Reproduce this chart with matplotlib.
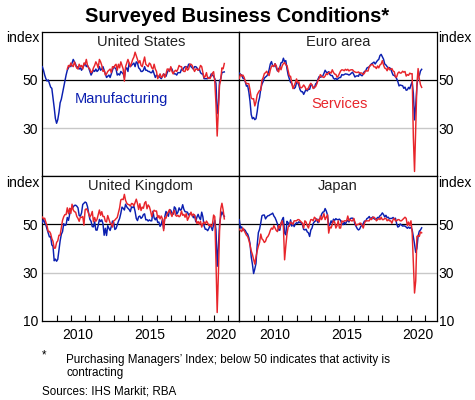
import numpy as np
import matplotlib
matplotlib.use("Agg")
import matplotlib.pyplot as plt

plt.rcParams['font.family'] = ['Liberation Sans', 'DejaVu Sans']

# ---------------- data (monthly, Jan 2008 - Oct 2020) ----------------
start_year = 2008
nan = np.nan

us_manufacturing = [
    55.5, 54.0, 52.0, 50.5, 49.5, 50.0, 48.5, 47.0, 46.5, 42.5, 38.5, 34.0,
    32.0, 33.5, 36.5, 40.5, 42.0, 44.5, 47.0, 49.5, 52.0, 54.0, 55.0, 56.0,
    55.5, 57.0, 58.5, 57.5, 56.5, 55.0, 55.5, 54.5, 55.0, 54.0, 55.0, 56.0,
    57.0, 55.5, 56.0, 55.0, 53.5, 52.0, 53.0, 54.0, 53.5, 54.5, 53.5, 54.0,
    55.5, 54.0, 54.5, 55.5, 54.0, 52.5, 51.0, 51.5, 52.0, 51.0, 52.5, 54.0,
    55.5, 55.0, 54.5, 52.0, 52.5, 52.0, 53.5, 53.0, 52.5, 51.0, 54.5, 55.0,
    53.5, 57.0, 55.5, 56.0, 56.5, 57.0, 55.5, 57.5, 57.0, 55.0, 54.5, 53.5,
    53.5, 54.0, 55.5, 54.0, 54.0, 53.5, 53.5, 53.0, 53.0, 54.0, 52.5, 51.0,
    52.0, 51.5, 51.5, 51.0, 50.5, 51.5, 52.5, 52.0, 51.5, 53.0, 54.0, 54.0,
    55.0, 54.5, 53.0, 52.5, 52.5, 52.0, 53.0, 53.0, 53.0, 54.5, 54.0, 55.0,
    55.5, 55.5, 55.0, 56.5, 56.5, 55.5, 55.0, 54.5, 55.5, 55.5, 55.0, 54.0,
    54.5, 53.0, 52.5, 52.5, 50.5, 50.5, 50.5, 50.5, 51.0, 51.0, 52.5, 52.0,
    51.5, 50.5, 48.5, 36.0, 39.5, 49.5, 50.5, 53.0, 53.2, 53.3,
]
us_services = [nan] * 21 + [
    54.5, 56.0, 55.5,
    57.0, 56.0, 55.5, 57.5, 56.0, 55.0, 54.5, 56.5, 55.5, 56.0, 54.5, 57.0,
    56.5, 58.5, 56.0, 55.0, 54.5, 53.0, 53.5, 55.0, 56.0, 57.5, 56.5, 55.0,
    58.5, 57.5, 56.0, 53.5, 54.0, 52.0, 52.5, 53.5, 54.0, 54.5, 53.0, 55.5,
    55.0, 56.0, 56.5, 54.0, 56.5, 55.0, 57.5, 56.0, 54.5, 49.5, 55.5, 57.0,
    58.5, 57.0, 55.5, 57.0, 58.5, 59.5, 61.5, 60.0, 58.5, 57.0, 58.0, 56.0,
    55.5, 57.5, 59.5, 56.5, 56.0, 55.5, 57.0, 56.5, 55.0, 54.5, 56.5, 54.5,
    53.5, 50.5, 51.5, 52.5, 51.0, 51.5, 52.5, 51.0, 52.5, 54.5, 54.5, 53.5,
    55.5, 53.5, 52.5, 53.5, 54.0, 53.5, 54.5, 56.0, 55.5, 55.5, 54.0, 53.5,
    53.5, 55.5, 54.0, 54.5, 56.5, 56.5, 56.0, 54.5, 53.5, 54.5, 54.5, 54.0,
    54.5, 56.0, 55.5, 53.0, 50.9, 51.5, 53.0, 50.7, 50.9, 50.6, 51.6, 52.8,
    53.4, 49.4, 39.8, 26.7, 37.5, 47.9, 50.0, 55.0, 54.6, 56.8,
]

ea_manufacturing = [
    52.8, 52.3, 52.0, 50.7, 50.6, 49.2, 47.4, 47.6, 45.0, 41.1, 35.6, 33.9,
    34.4, 33.5, 33.9, 36.8, 40.7, 42.6, 46.3, 48.2, 49.3, 50.7, 51.2, 51.6,
    52.4, 54.2, 56.6, 57.6, 55.8, 55.6, 56.7, 55.1, 53.7, 54.6, 55.3, 57.1,
    57.3, 59.0, 57.5, 58.0, 54.6, 52.0, 50.4, 49.0, 48.5, 47.1, 46.4, 46.9,
    48.8, 49.0, 47.7, 45.9, 45.1, 45.1, 44.0, 45.1, 46.1, 45.4, 46.2, 46.1,
    47.9, 47.9, 46.8, 46.7, 48.3, 48.8, 50.3, 51.4, 51.1, 51.3, 51.6, 52.7,
    54.0, 53.2, 53.0, 53.4, 52.2, 51.8, 51.8, 50.7, 50.3, 50.6, 50.1, 50.6,
    51.0, 51.0, 52.2, 52.0, 52.2, 52.5, 52.4, 52.3, 52.0, 52.3, 52.8, 53.2,
    52.3, 51.2, 51.6, 51.7, 51.5, 52.8, 52.0, 51.7, 52.6, 53.5, 53.7, 54.9,
    55.2, 55.4, 56.2, 56.7, 57.0, 57.4, 56.6, 57.4, 58.1, 58.5, 60.1, 60.6,
    59.6, 58.6, 56.6, 56.2, 55.5, 54.9, 55.1, 54.6, 53.2, 52.0, 51.8, 51.4,
    50.5, 49.3, 47.5, 47.9, 47.7, 47.6, 46.5, 47.0, 45.7, 45.9, 46.9, 46.3,
    47.9, 49.2, 44.5, 33.4, 39.4, 47.4, 51.8, 51.7, 53.7, 54.4,
]
ea_services = [
    50.6, 52.3, 51.6, 52.0, 51.1, 49.5, 48.3, 48.5, 48.4, 45.8, 42.5, 42.1,
    42.2, 39.2, 40.9, 43.8, 44.8, 45.6, 45.7, 49.9, 50.9, 52.6, 53.0, 53.6,
    52.5, 51.8, 54.1, 55.6, 56.0, 55.5, 56.7, 55.9, 54.1, 53.3, 55.4, 54.2,
    55.9, 56.8, 57.2, 56.2, 56.0, 53.7, 51.6, 51.5, 48.8, 46.4, 47.5, 48.8,
    50.4, 48.8, 49.2, 46.9, 46.7, 47.1, 47.9, 47.2, 46.1, 46.0, 46.7, 47.8,
    48.6, 47.9, 46.4, 47.0, 47.2, 48.3, 49.8, 50.7, 52.2, 51.6, 51.2, 51.0,
    51.6, 52.6, 52.2, 53.1, 53.2, 52.8, 54.2, 53.1, 52.4, 52.3, 51.1, 51.6,
    52.7, 53.7, 54.2, 54.1, 53.8, 54.4, 54.0, 54.4, 53.7, 54.1, 54.2, 54.2,
    53.6, 53.3, 53.1, 53.1, 53.3, 52.8, 52.9, 52.8, 52.2, 52.8, 53.8, 53.7,
    53.7, 55.5, 56.0, 56.4, 56.3, 55.4, 55.4, 54.7, 55.8, 55.0, 56.2, 56.6,
    58.0, 56.2, 54.9, 54.7, 53.8, 55.2, 54.2, 54.4, 54.7, 53.7, 53.4, 51.2,
    51.2, 52.8, 53.3, 52.8, 52.9, 53.6, 53.2, 53.5, 51.6, 52.2, 51.9, 52.8,
    52.5, 52.6, 26.4, 12.0, 30.5, 48.3, 54.7, 50.5, 48.0, 46.9,
]

uk_manufacturing = [
    50.8, 52.3, 50.6, 49.8, 48.0, 46.4, 44.8, 45.0, 41.5, 40.9, 34.9, 35.6,
    34.7, 35.5, 39.2, 43.2, 45.9, 47.0, 50.3, 49.6, 49.8, 52.9, 51.7, 54.1,
    56.6, 56.5, 57.3, 57.9, 58.0, 57.6, 56.9, 53.7, 53.4, 54.8, 58.3, 58.8,
    59.3, 59.0, 57.4, 54.6, 52.1, 51.3, 49.1, 49.0, 51.1, 47.7, 47.6, 49.6,
    52.1, 51.2, 51.9, 50.3, 45.5, 48.4, 45.4, 49.5, 48.4, 47.5, 49.1, 51.4,
    50.8, 47.9, 48.3, 49.8, 51.3, 52.5, 54.6, 57.2, 56.7, 56.0, 58.4, 57.3,
    56.7, 56.2, 55.3, 57.3, 57.0, 57.5, 55.4, 52.5, 51.6, 53.2, 53.5, 52.5,
    53.0, 54.1, 54.4, 51.9, 52.0, 51.4, 51.9, 51.5, 51.5, 55.5, 52.7, 51.9,
    52.9, 50.8, 51.0, 49.2, 50.1, 52.1, 48.2, 53.3, 55.4, 54.3, 53.4, 56.1,
    55.9, 54.6, 54.2, 57.3, 56.7, 54.3, 55.1, 56.9, 55.9, 56.3, 58.2, 56.3,
    55.3, 55.2, 55.1, 53.9, 54.4, 54.4, 54.0, 52.8, 53.8, 51.1, 53.1, 54.2,
    52.8, 52.0, 55.1, 53.1, 49.4, 48.0, 48.0, 47.4, 48.3, 49.6, 48.9, 47.5,
    50.0, 51.7, 47.8, 32.6, 40.7, 50.1, 53.3, 55.2, 54.1, 53.3,
]
uk_services = [
    53.1, 52.3, 52.6, 50.9, 49.4, 47.0, 47.1, 46.2, 44.1, 43.0, 40.1, 40.2,
    42.5, 43.2, 45.5, 45.5, 48.7, 51.7, 53.2, 54.1, 54.1, 56.9, 54.4, 56.7,
    54.6, 58.4, 56.0, 55.3, 55.1, 53.3, 52.5, 51.3, 53.0, 52.9, 53.3, 49.7,
    56.1, 56.5, 55.8, 54.5, 53.1, 53.9, 55.4, 51.1, 52.9, 51.3, 52.1, 54.0,
    56.0, 53.8, 55.3, 53.3, 53.3, 51.3, 51.0, 53.7, 52.2, 50.6, 50.2, 48.9,
    51.5, 51.8, 52.4, 52.9, 54.9, 56.9, 60.2, 60.5, 60.3, 62.5, 60.0, 58.8,
    58.3, 58.2, 57.6, 58.7, 58.6, 57.7, 59.1, 60.5, 58.7, 56.2, 58.6, 55.8,
    57.2, 56.7, 58.9, 59.5, 56.5, 58.1, 57.4, 55.6, 53.3, 54.9, 55.9, 55.5,
    55.6, 52.7, 53.7, 52.3, 53.5, 52.3, 47.4, 52.9, 52.6, 54.5, 55.2, 56.2,
    54.5, 53.3, 55.0, 55.8, 53.8, 53.4, 53.8, 53.2, 53.6, 55.6, 53.8, 54.2,
    53.0, 54.5, 51.7, 52.8, 54.0, 55.1, 53.5, 54.3, 53.9, 52.2, 50.4, 51.2,
    50.1, 51.3, 48.9, 50.4, 51.0, 50.2, 51.4, 50.6, 49.5, 50.0, 49.0, 50.0,
    53.9, 53.2, 34.5, 13.4, 29.0, 47.1, 56.5, 58.8, 56.1, 52.3,
]

jp_manufacturing = [
    52.0, 48.5, 49.0, 47.5, 48.0, 47.5, 46.5, 46.0, 44.5, 42.0, 36.5, 33.5,
    29.6, 31.5, 33.8, 41.4, 46.6, 48.0, 50.6, 53.6, 53.9, 53.9, 52.3, 53.1,
    53.6, 53.7, 54.1, 54.3, 54.7, 53.5, 52.8, 51.6, 50.2, 47.7, 47.6, 50.5,
    52.0, 52.9, 46.4, 45.7, 51.3, 50.7, 49.3, 51.9, 49.3, 50.6, 49.1, 50.2,
    50.7, 50.5, 51.1, 50.7, 50.7, 49.9, 47.9, 47.7, 48.0, 46.9, 46.5, 45.0,
    47.7, 48.5, 50.4, 51.1, 51.5, 52.3, 50.7, 52.2, 52.5, 54.2, 55.1, 55.2,
    56.6, 55.5, 53.9, 49.4, 49.9, 51.5, 50.5, 52.2, 51.7, 52.4, 52.0, 52.0,
    52.2, 51.6, 50.3, 49.9, 50.9, 50.1, 51.2, 51.7, 51.0, 52.4, 52.6, 52.6,
    52.3, 50.1, 49.1, 48.2, 47.7, 48.1, 49.3, 49.5, 50.4, 51.4, 51.3, 52.4,
    52.7, 53.3, 52.4, 52.7, 53.1, 52.4, 52.1, 52.2, 52.9, 52.8, 53.6, 54.0,
    54.8, 54.1, 53.1, 53.8, 52.8, 53.0, 52.3, 52.5, 52.5, 52.9, 52.2, 52.6,
    50.3, 48.9, 49.2, 50.2, 49.8, 49.3, 49.4, 49.3, 48.9, 48.4, 48.9, 48.4,
    48.8, 47.8, 44.8, 41.9, 38.4, 40.1, 45.2, 47.2, 47.7, 48.6,
]
jp_services = [
    48.0, 47.5, 47.0, 48.5, 47.5, 46.5, 45.5, 45.0, 43.5, 41.5, 39.0, 37.5,
    35.5, 33.5, 36.5, 39.0, 41.0, 42.5, 46.0, 44.0, 43.5, 42.5, 43.0, 44.5,
    45.0, 46.0, 47.5, 48.5, 48.0, 49.5, 48.5, 47.5, 47.0, 49.5, 48.5, 50.5,
    51.5, 49.0, 35.3, 41.0, 46.0, 49.0, 49.5, 51.0, 50.5, 50.0, 51.5, 51.5,
    51.5, 52.0, 52.0, 51.5, 51.0, 50.5, 48.5, 51.5, 51.0, 49.5, 48.5, 50.5,
    52.0, 52.0, 51.5, 53.0, 52.5, 51.5, 52.0, 51.0, 53.5, 52.0, 53.0, 54.5,
    52.0, 53.0, 54.0, 46.4, 49.0, 48.5, 50.0, 51.5, 51.0, 48.5, 49.5, 51.5,
    48.5, 48.5, 51.5, 51.0, 51.5, 51.5, 51.5, 53.5, 51.5, 52.0, 51.5, 51.5,
    52.5, 51.0, 49.5, 50.0, 50.0, 50.5, 50.5, 49.5, 48.5, 50.5, 51.5, 51.5,
    51.5, 51.5, 52.5, 52.0, 53.0, 53.0, 52.5, 51.5, 52.0, 52.5, 52.0, 53.0,
    52.0, 52.0, 52.5, 52.5, 51.5, 52.0, 51.5, 51.5, 50.5, 52.0, 52.5, 51.5,
    51.5, 52.0, 52.0, 51.5, 51.5, 52.0, 52.5, 53.0, 52.5, 49.5, 51.0, 49.5,
    51.5, 46.8, 33.8, 21.5, 26.5, 45.0, 45.4, 45.0, 46.9, 46.5,
]

panels = [
    ("United States", us_manufacturing, us_services),
    ("Euro area", ea_manufacturing, ea_services),
    ("United Kingdom", uk_manufacturing, uk_services),
    ("Japan", jp_manufacturing, jp_services),
]
year_ticks = list(range(2009, 2022))
year_labels = ["2010", "2015", "2020"]
year_label_pos = [2010.5, 2015.5, 2020.5]

# ---------------- figure ----------------
BLUE = "#0b1fb0"
RED = "#e8252b"

fig = plt.figure(figsize=(4.75, 4.0), dpi=100)
W, H = 475.0, 400.0
xl, xm, xr = 42.3 / W, 239.3 / W, 436.7 / W
yt, ym, yb = 1 - 31.7 / H, 1 - 176.3 / H, 1 - 320.7 / H

boxes = [
    [xl, ym, xm - xl, yt - ym],
    [xm, ym, xr - xm, yt - ym],
    [xl, yb, xm - xl, ym - yb],
    [xm, yb, xr - xm, ym - yb],
]

for k, ((name, man, ser), box) in enumerate(zip(panels, boxes)):
    ax = fig.add_axes(box)
    n = len(man)
    x = start_year + np.arange(n) / 12.0
    ax.axhline(30, color="#c8c8c8", lw=1.0, zorder=1)
    ax.axhline(50, color="black", lw=0.9, zorder=1)
    ax.plot(x, man, color=BLUE, lw=1.05, zorder=3)
    ax.plot(x, ser, color=RED, lw=1.05, zorder=4)
    ax.set_xlim(2008.0, 2021.8)
    ax.set_ylim(10, 70)
    for sp in ax.spines.values():
        sp.set_linewidth(0.9)
        sp.set_color("black")
    ax.text(0.5, 0.93, name, transform=ax.transAxes, ha="center", va="center",
            fontsize=10.5, color="#222222")

    bottom = k >= 2
    right = k % 2 == 1
    yt_vals = [10, 30, 50] if bottom else [30, 50]
    ax.set_yticks(yt_vals)
    ax.set_yticklabels([str(v) for v in yt_vals])
    if right:
        ax.yaxis.tick_right()
        ax.tick_params(axis="y", length=0, pad=1.5, labelsize=10)
    else:
        ax.tick_params(axis="y", length=0, pad=3, labelsize=10)

    if bottom:
        ax.set_xticks(year_ticks)
        ax.set_xticklabels([""] * len(year_ticks))
        ax.tick_params(axis="x", which="major", direction="in", length=4,
                       width=0.8)
        ax.set_xticks(year_label_pos, minor=True)
        ax.set_xticklabels(year_labels, minor=True)
        ax.tick_params(axis="x", which="minor", length=0, pad=5, labelsize=10)
    else:
        ax.set_xticks([])

    if k == 0:
        ax.text(2010.25, 42.0, "Manufacturing", color=BLUE, fontsize=10.5,
                ha="left", va="center")
    if k == 1:
        ax.text(2015.0, 40.0, "Services", color=RED, fontsize=10.5,
                ha="center", va="center")

# "index" unit labels
for yy in (38.0, 183.0):
    fig.text(39.5 / W, 1 - yy / H, "index", ha="right", va="center", fontsize=10)
    fig.text(438.0 / W, 1 - yy / H, "index", ha="left", va="center", fontsize=10)

fig.text(0.5, 1 - 16.5 / H, "Surveyed Business Conditions*", ha="center",
         va="center", fontsize=14.5, fontweight="bold")

FN = 8.4
fig.text(42.0 / W, 1 - 355.0 / H, "*", ha="left", va="center", fontsize=FN)
fig.text(66.5 / W, 1 - 359.5 / H,
         "Purchasing Managers\u2019 Index; below 50 indicates that activity is",
         ha="left", va="center", fontsize=FN)
fig.text(66.5 / W, 1 - 373.0 / H, "contracting", ha="left", va="center",
         fontsize=FN)
fig.text(41.5 / W, 1 - 391.0 / H, "Sources: IHS Markit; RBA", ha="left",
         va="center", fontsize=FN)

fig.savefig("out.png", dpi=100)
